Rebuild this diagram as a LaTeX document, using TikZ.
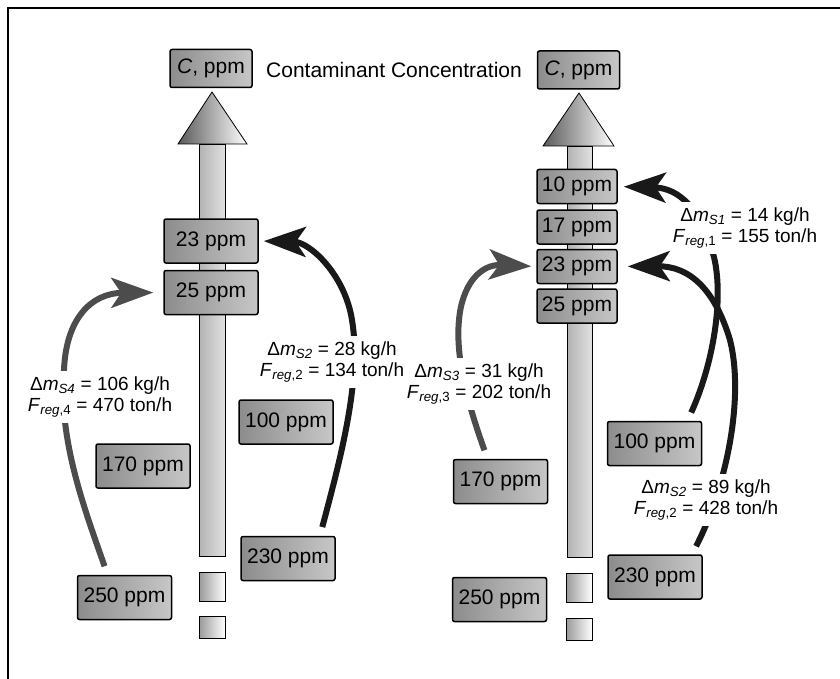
\documentclass[tikz,border=0pt]{standalone}
\usepackage{fontspec}
\setmainfont{Liberation Sans}
\usetikzlibrary{positioning}
\usetikzlibrary{arrows.meta}

\begin{document}
\begin{tikzpicture}[x=1pt, y=-1pt, thick,
    box/.style={draw, line width=1.5pt, rounded corners=2pt, left color=black!45, right color=black!22, minimum width=94pt, minimum height=44pt, inner sep=1pt, font=\fontsize{21}{21}\selectfont},
    sbox/.style={box, minimum width=80pt, minimum height=34pt},
    cbox/.style={box, minimum width=82pt, minimum height=38pt},
    lbl/.style={fill=white, align=center, inner xsep=0pt, inner ysep=6pt, font=\fontsize{19}{21}\selectfont},
    ar/.style={line width=6pt, -{Stealth[length=42pt, width=30pt, inset=10pt]}, shorten <=9pt},
    shaft/.style={draw, line width=0.8pt, left color=black!30, right color=black!12},
    head/.style={draw, line width=0.8pt, left color=black!65, right color=white},
    sq/.style={draw, line width=0.8pt, left color=black!40, right color=white}]
      \useasboundingbox (0,0) rectangle (840,679);
      \draw[line width=2.5pt] (8,679) -- (8,8) -- (840,8);

      % concentration axes
      \draw[shaft] (199,144) rectangle (225,556);
      \draw[head] (178,144) -- (212,92) -- (247,144) -- cycle;
      \draw[sq] (199,572) rectangle (225,601);
      \draw[sq] (199,616) rectangle (225,638);
      \draw[shaft] (567,146) rectangle (592,557);
      \draw[head] (543,146) -- (579,93) -- (614,146) -- cycle;
      \draw[sq] (566,573) rectangle (592,602);
      \draw[sq] (566,618) rectangle (592,640);

      \node[cbox] (cL) at (211,68.5) {\textit{C}, ppm};
      \node[font=\fontsize{21}{21}\selectfont] (title) at (394,70) {Contaminant Concentration};
      \node[cbox] (cR) at (578.5,70) {\textit{C}, ppm};

      % left diagram
      \node[box] (l23) at (211,241) {23 ppm};
      \node[box] (l25) [below=6pt of l23] {25 ppm};
      \node[box] (l100) at (286,422) {100 ppm};
      \node[box] (l170) at (143,466) {170 ppm};
      \node[box] (l230) at (288,558.5) {230 ppm};
      \node[box] (l250) at (124.5,597.5) {250 ppm};

      % right diagram
      \node[sbox] (r10) at (577,186.5) {10 ppm};
      \node[sbox] (r17) [below=5pt of r10] {17 ppm};
      \node[sbox] (r23) [below=4pt of r17] {23 ppm};
      \node[sbox] (r25) [below=4pt of r23] {25 ppm};
      \node[box] (r100) at (654.5,443.5) {100 ppm};
      \node[box] (r170) at (500.5,481.5) {170 ppm};
      \node[box] (r230) at (655,577) {230 ppm};
      \node[box] (r250) at (499.5,599.5) {250 ppm};

      \draw[ar, draw=black!70, shorten >=10pt] ([xshift=-17pt]l250.north) .. controls (85,510) and (58,440) .. (64,370) .. controls (66,320) and (90,293) .. (l25.west);
      \draw[ar, draw=black!90, shorten >=5pt] ([xshift=32pt]l230.north) .. controls (340,460) and (362,380) .. (352,320) .. controls (345,275) and (310,242) .. (l23.east);
      \draw[ar, draw=black!70, shorten >=5pt] ([xshift=-13pt]r170.north) .. controls (470,410) and (455,360) .. (459,320) .. controls (462,285) and (480,264) .. (r23.west);
      \draw[ar, draw=black!90, shorten >=6pt] ([xshift=33pt]r100.north) .. controls (715,360) and (725,290) .. (712,250) .. controls (700,210) and (680,188) .. (r10.east);
      \draw[ar, draw=black!90, shorten >=10pt] ([xshift=37pt]r230.north) .. controls (725,490) and (745,400) .. (730,340) .. controls (715,290) and (690,266) .. (r23.east);

      \node[lbl] (mS4) at (100,397) {Δ\textit{m}\textsubscript{\textit{S4}} = 106 kg/h\\\textit{F}\textsubscript{\textit{reg},4} = 470 ton/h};
      \node[lbl] (mS3) at (479,384) {Δ\textit{m}\textsubscript{\textit{S3}} = 31 kg/h\\\textit{F}\textsubscript{\textit{reg},3} = 202 ton/h};
      \node[lbl] (mS2a) at (332,362) {Δ\textit{m}\textsubscript{\textit{S2}} = 28 kg/h\\\textit{F}\textsubscript{\textit{reg},2} = 134 ton/h};
      \node[lbl] (mS1) at (745,228) {Δ\textit{m}\textsubscript{\textit{S1}} = 14 kg/h\\\textit{F}\textsubscript{\textit{reg},1} = 155 ton/h};
      \node[lbl] (mS2b) at (706,500) {Δ\textit{m}\textsubscript{\textit{S2}} = 89 kg/h\\\textit{F}\textsubscript{\textit{reg},2} = 428 ton/h};
\end{tikzpicture}
\end{document}
